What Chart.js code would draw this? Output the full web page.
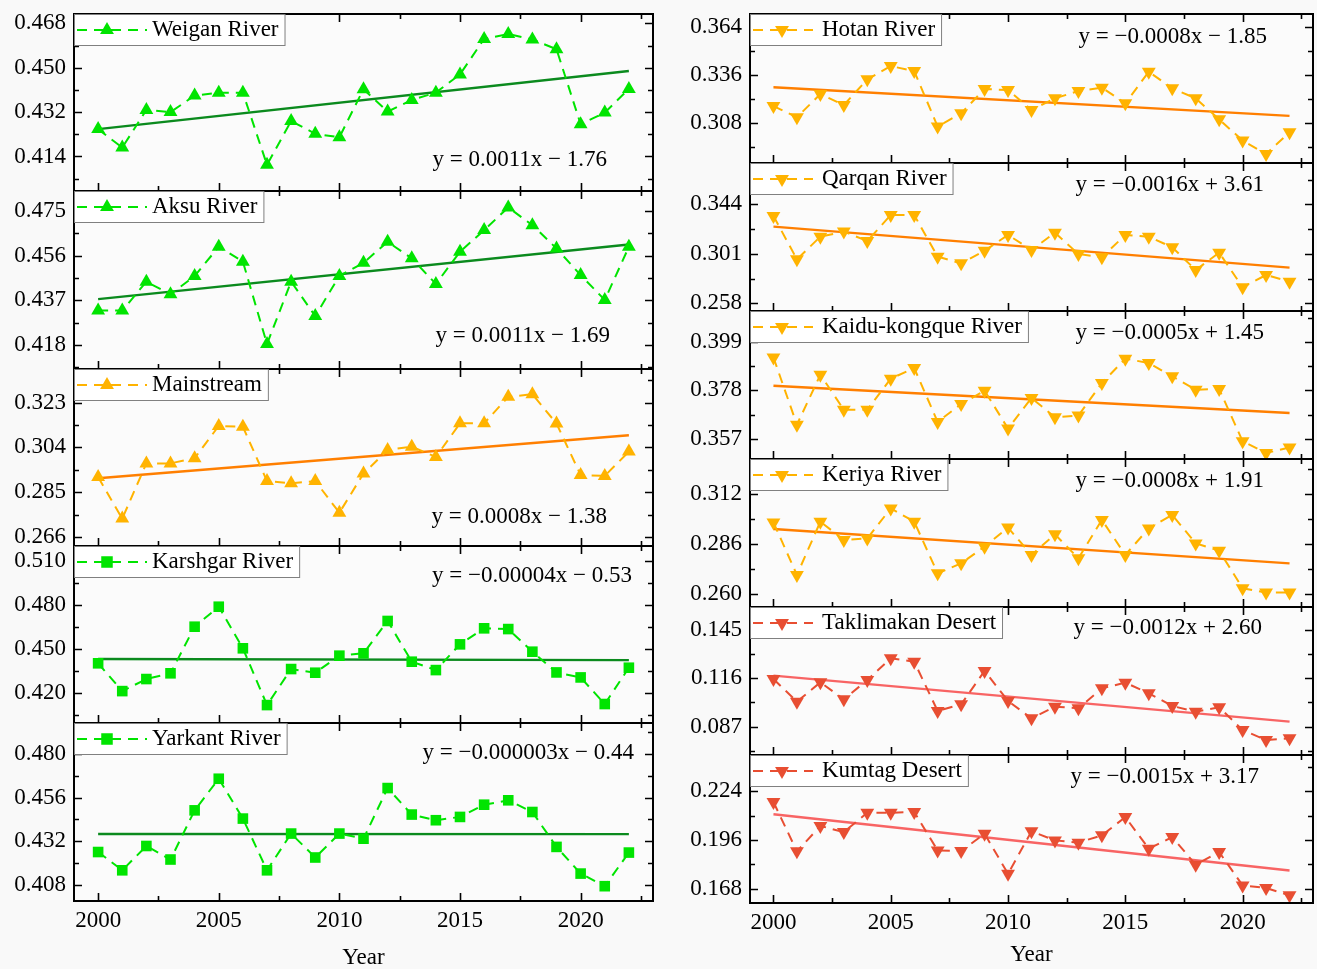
<!DOCTYPE html>
<html><head><meta charset="utf-8">
<script src="https://cdn.jsdelivr.net/npm/chart.js@4/dist/chart.umd.min.js"></script>
<style>
html,body{margin:0;padding:0;background:#f9f9f9;overflow:hidden;width:1317px;height:969px;position:relative;}
canvas{position:absolute;}
</style></head><body>
<script>
// ---------- DATA ----------
const years = [2000,2001,2002,2003,2004,2005,2006,2007,2008,2009,2010,2011,2012,2013,2014,2015,2016,2017,2018,2019,2020,2021,2022];
const xTickLabels = [2000,2005,2010,2015,2020];

const weiganValues = [0.4251,0.4176,0.4329,0.4320,0.4387,0.4399,0.4399,0.4106,0.4284,0.4232,0.4218,0.4413,0.4322,0.4369,0.4399,0.4473,0.4617,0.4637,0.4615,0.4575,0.4271,0.4318,0.4414];
const weiganTrend = [0.4251,0.4487];
const weiganTicks = [0.414,0.432,0.450,0.468];

const aksuValues = [0.4326,0.4326,0.4449,0.4395,0.4473,0.4597,0.4534,0.4184,0.4449,0.4303,0.4473,0.4529,0.4618,0.4548,0.4439,0.4576,0.4668,0.4764,0.4689,0.4590,0.4477,0.4371,0.4597];
const aksuTrend = [0.4375,0.4607];
const aksuTicks = [0.418,0.437,0.456,0.475];

const mainstreamValues = [0.2914,0.2738,0.2972,0.2972,0.2994,0.3131,0.3127,0.2897,0.2888,0.2897,0.2763,0.2929,0.3029,0.3043,0.2999,0.3142,0.3142,0.3254,0.3265,0.3141,0.2923,0.2919,0.3022];
const mainstreamTrend = [0.2909,0.3091];
const mainstreamTicks = [0.266,0.285,0.304,0.323];

const karshgarValues = [0.4404,0.4215,0.4297,0.4336,0.4653,0.4789,0.4506,0.4120,0.4365,0.4340,0.4456,0.4472,0.4692,0.4415,0.4358,0.4533,0.4642,0.4637,0.4483,0.4342,0.4308,0.4127,0.4374];
const karshgarTrend = [0.4433,0.4426];
const karshgarTicks = [0.420,0.450,0.480,0.510];

const yarkantValues = [0.4262,0.4162,0.4295,0.4221,0.4490,0.4663,0.4445,0.4162,0.4363,0.4232,0.4363,0.4335,0.4612,0.4467,0.4436,0.4454,0.4521,0.4545,0.4481,0.4290,0.4144,0.4075,0.4259];
const yarkantTrend = [0.4361,0.4360];
const yarkantTicks = [0.408,0.432,0.456,0.480];

const hotanValues = [0.3180,0.3115,0.3250,0.3186,0.3335,0.3412,0.3383,0.3061,0.3138,0.3279,0.3273,0.3157,0.3225,0.3267,0.3287,0.3196,0.3379,0.3283,0.3225,0.3103,0.2980,0.2902,0.3028];
const hotanTrend = [0.3289,0.3123];
const hotanTicks = [0.308,0.336,0.364];

const qarqanValues = [0.3339,0.2962,0.3159,0.3203,0.3121,0.3347,0.3347,0.2985,0.2927,0.3037,0.3174,0.3043,0.3194,0.3008,0.2980,0.3174,0.3159,0.3066,0.2869,0.3020,0.2719,0.2826,0.2768];
const qarqanTrend = [0.3246,0.2890];
const qarqanTicks = [0.258,0.301,0.344];

const kaiduValues = [0.3923,0.3631,0.3848,0.3696,0.3696,0.3831,0.3877,0.3643,0.3721,0.3779,0.3614,0.3747,0.3663,0.3671,0.3812,0.3918,0.3899,0.3841,0.3783,0.3786,0.3559,0.3508,0.3532];
const kaiduTrend = [0.3800,0.3682];
const kaiduTicks = [0.357,0.378,0.399];

const keriyaValues = [0.2974,0.2701,0.2978,0.2883,0.2891,0.3047,0.2978,0.2709,0.2761,0.2848,0.2947,0.2805,0.2912,0.2787,0.2987,0.2805,0.2943,0.3013,0.2865,0.2827,0.2631,0.2610,0.2610];
const keriyaTrend = [0.2940,0.2761];
const keriyaTicks = [0.260,0.286,0.312];

const taklimakanValues = [0.1156,0.1020,0.1136,0.1034,0.1150,0.1280,0.1260,0.0964,0.1004,0.1204,0.1024,0.0920,0.0990,0.0980,0.1100,0.1134,0.1070,0.0994,0.0960,0.0986,0.0850,0.0790,0.0800];
const taklimakanTrend = [0.1176,0.0900];
const taklimakanTicks = [0.087,0.116,0.145];

const kumtagValues = [0.2179,0.1895,0.2041,0.2006,0.2117,0.2117,0.2121,0.1900,0.1897,0.1996,0.1766,0.2010,0.1958,0.1945,0.1987,0.2092,0.1910,0.1977,0.1818,0.1891,0.1699,0.1684,0.1642];
const kumtagTrend = [0.2108,0.1785];
const kumtagTicks = [0.168,0.196,0.224];

// ---------- STYLE ----------
const FONT = "'Liberation Serif','Times New Roman',serif";
const FS = 23;
const palette = {
  green:{marker:'#00e400', trend:'#0b8a1e'},
  amber:{marker:'#ffb300', trend:'#ff7f00'},
  red:{marker:'#e84e32', trend:'#f86464'}
};
const cols = {
  L:{x0:0, left:74, right:653, sample:70, markerAt:33, textAt:78, canvasBottom:976},
  R:{x0:676, left:750, right:1313, sample:60, markerAt:32, textAt:72, canvasBottom:973}
};

const panels = [
 {name:'Weigan River', col:'L', top:14, bottom:191, values:weiganValues, trend:weiganTrend, ticks:weiganTicks, min:0.4000, max:0.4718, shape:'up', color:'green', eq:'y = 0.0011x \u2212 1.76', eqDx:46, eqCy:146},
 {name:'Aksu River', col:'L', top:191, bottom:369, values:aksuValues, trend:aksuTrend, ticks:aksuTicks, min:0.4078, max:0.4834, shape:'up', color:'green', eq:'y = 0.0011x \u2212 1.69', eqDx:43, eqCy:145},
 {name:'Mainstream', col:'L', top:369, bottom:546, values:mainstreamValues, trend:mainstreamTrend, ticks:mainstreamTicks, min:0.2622, max:0.3372, shape:'up', color:'amber', eq:'y = 0.0008x \u2212 1.38', eqDx:46, eqCy:148},
 {name:'Karshgar River', col:'L', top:546, bottom:723, values:karshgarValues, trend:karshgarTrend, ticks:karshgarTicks, min:0.3998, max:0.5202, shape:'sq', color:'green', eq:'y = \u22120.00004x \u2212 0.53', eqDx:21, eqCy:30},
 {name:'Yarkant River', col:'L', top:723, bottom:901, values:yarkantValues, trend:yarkantTrend, ticks:yarkantTicks, min:0.3994, max:0.4968, shape:'sq', color:'green', eq:'y = \u22120.000003x \u2212 0.44', eqDx:19, eqCy:30, bottomPanel:true},
 {name:'Hotan River', col:'R', top:14, bottom:163, values:hotanValues, trend:hotanTrend, ticks:hotanTicks, min:0.2850, max:0.3714, shape:'down', color:'amber', eq:'y = \u22120.0008x \u2212 1.85', eqDx:46, eqCy:23},
 {name:'Qarqan River', col:'R', top:163, bottom:311, values:qarqanValues, trend:qarqanTrend, ticks:qarqanTicks, min:0.2513, max:0.3799, shape:'down', color:'amber', eq:'y = \u22120.0016x + 3.61', eqDx:49, eqCy:22},
 {name:'Kaidu-kongque River', col:'R', top:311, bottom:459, values:kaiduValues, trend:kaiduTrend, ticks:kaiduTicks, min:0.3482, max:0.4125, shape:'down', color:'amber', eq:'y = \u22120.0005x + 1.45', eqDx:49, eqCy:22},
 {name:'Keriya River', col:'R', top:459, bottom:607, values:keriyaValues, trend:keriyaTrend, ticks:keriyaTicks, min:0.2534, max:0.3304, shape:'down', color:'amber', eq:'y = \u22120.0008x + 1.91', eqDx:49, eqCy:22},
 {name:'Taklimakan Desert', col:'R', top:607, bottom:755, values:taklimakanValues, trend:taklimakanTrend, ticks:taklimakanTicks, min:0.0700, max:0.1588, shape:'down', color:'red', eq:'y = \u22120.0012x + 2.60', eqDx:51, eqCy:21},
 {name:'Kumtag Desert', col:'R', top:755, bottom:903, values:kumtagValues, trend:kumtagTrend, ticks:kumtagTicks, min:0.1598, max:0.2449, shape:'down', color:'red', eq:'y = \u22120.0015x + 3.17', eqDx:54, eqCy:22, bottomPanel:true}
];

function markerPath(ctx, shape, x, y, r){
  ctx.beginPath();
  if (shape === 'sq') {
    const s = r * 0.72;
    ctx.rect(x - s, y - s, 2*s, 2*s);
  } else {
    const dir = shape === 'up' ? 1 : -1;
    const w = r * 0.866;
    ctx.moveTo(x, y - dir*r);
    ctx.lineTo(x + w, y + dir*r*0.5);
    ctx.lineTo(x - w, y + dir*r*0.5);
    ctx.closePath();
  }
}

function makePanelPlugin(p){
  const c = cols[p.col];
  const pal = palette[p.color];
  return {
    id:'panelDeco',
    beforeDraw(chart){
      const {ctx, chartArea:a} = chart;
      ctx.save();
      ctx.fillStyle = '#fbfbfb';
      ctx.fillRect(a.left, a.top, a.right-a.left, a.bottom-a.top);
      ctx.restore();
    },
    afterDraw(chart){
      const {ctx, chartArea:a, scales:{x, y}} = chart;
      ctx.save();
      ctx.strokeStyle = '#000';
      ctx.lineWidth = 1.6;
      const step = p.ticks[1] - p.ticks[0];
      const yTickLine = (v, len) => {
        const py = Math.round(y.getPixelForValue(v)) + 0.5;
        if (py < a.top + 1 || py > a.bottom - 1) return;
        ctx.beginPath();
        ctx.moveTo(a.left, py); ctx.lineTo(a.left + len, py);
        ctx.moveTo(a.right, py); ctx.lineTo(a.right - len, py);
        ctx.stroke();
      };
      p.ticks.forEach(v => yTickLine(v, 8));
      for (let k = -2; k < p.ticks.length + 1; k++) {
        const v = p.ticks[0] + (k + 0.5) * step;
        if (v > p.min && v < p.max) yTickLine(v, 5);
      }
      const xTickLine = (v, len) => {
        const px = Math.round(x.getPixelForValue(v)) + 0.5;
        ctx.beginPath();
        ctx.moveTo(px, a.bottom); ctx.lineTo(px, a.bottom - len);
        ctx.moveTo(px, a.top); ctx.lineTo(px, a.top + len);
        ctx.stroke();
      };
      xTickLabels.forEach(v => xTickLine(v, 8));
      xTickLabels.forEach(v => xTickLine(v + 2.5, 5));
      ctx.lineWidth = 2;
      ctx.strokeRect(a.left, a.top, a.right - a.left, a.bottom - a.top);
      ctx.font = FS + 'px ' + FONT;
      const tw = ctx.measureText(p.name).width;
      const bw = c.textAt + tw + 6, bh = 31;
      ctx.fillStyle = '#ffffff';
      ctx.fillRect(a.left + 1, a.top + 1, bw - 1, bh - 1);
      ctx.strokeStyle = '#808080';
      ctx.lineWidth = 1;
      ctx.strokeRect(a.left + 0.5, a.top + 0.5, bw, bh);
      const ly = a.top + 16;
      ctx.strokeStyle = pal.marker;
      ctx.lineWidth = 2;
      ctx.setLineDash([10, 7]);
      ctx.beginPath();
      ctx.moveTo(a.left + 3, ly); ctx.lineTo(a.left + 3 + c.sample, ly);
      ctx.stroke();
      ctx.setLineDash([]);
      ctx.fillStyle = pal.marker;
      markerPath(ctx, p.shape, a.left + c.markerAt, ly, 8);
      ctx.fill();
      ctx.fillStyle = '#000';
      ctx.textBaseline = 'middle';
      ctx.textAlign = 'left';
      ctx.fillText(p.name, a.left + c.textAt, ly);
      ctx.textAlign = 'right';
      ctx.fillText(p.eq, a.right - p.eqDx, a.top + p.eqCy);
      ctx.restore();
    }
  };
}

panels.forEach(p => {
  const c = cols[p.col];
  const padT = 26, padR = 8;
  const plotH = p.bottom - p.top;
  const axisH = p.bottomPanel ? (c.canvasBottom - p.bottom) : 0;
  const padB = p.bottomPanel ? 0 : 26;
  const cv = document.createElement('canvas');
  const W = c.right + padR - c.x0;
  const H = plotH + padT + padB + axisH;
  cv.width = W; cv.height = H;
  cv.style.left = c.x0 + 'px';
  cv.style.top = (p.top - padT) + 'px';
  cv.style.width = W + 'px'; cv.style.height = H + 'px';
  document.body.appendChild(cv);
  const pal = palette[p.color];
  const font = {family: FONT, size: FS};
  new Chart(cv, {
    type: 'line',
    data: {
      datasets: [
        {
          data: years.map((yr, i) => ({x: yr, y: p.values[i]})),
          borderColor: pal.marker, backgroundColor: pal.marker,
          borderWidth: 2, borderDash: [10, 7], tension: 0,
          pointStyle: p.shape === 'sq' ? 'rect' : 'triangle',
          pointRotation: p.shape === 'down' ? 180 : 0,
          pointRadius: p.shape === 'sq' ? 7.5 : 8,
          pointBorderWidth: 0,
          pointBackgroundColor: pal.marker,
          order: 0
        },
        {
          data: [{x: years[0], y: p.trend[0]}, {x: years[years.length-1], y: p.trend[1]}],
          borderColor: pal.trend, borderWidth: 2.4, pointRadius: 0, tension: 0,
          order: 1
        }
      ]
    },
    options: {
      responsive: false, animation: false, devicePixelRatio: 1,
      layout: {autoPadding: false, padding: {left: 0, right: padR, top: padT, bottom: padB}},
      plugins: {legend: {display: false}, tooltip: {enabled: false}},
      scales: {
        x: {
          type: 'linear', min: 1999, max: 2023,
          grid: {display: false, drawTicks: false}, border: {display: false},
          ticks: {display: !!p.bottomPanel, font: font, color: '#000', padding: 6, callback: v => String(v)},
          title: {display: !!p.bottomPanel, text: 'Year', font: font, color: '#000', padding: {top: 0, bottom: 4}},
          afterBuildTicks: s => { s.ticks = xTickLabels.map(v => ({value: v})); },
          afterFit: s => { s.height = axisH; }
        },
        y: {
          type: 'linear', min: p.min, max: p.max,
          grid: {display: false, drawTicks: false}, border: {display: false},
          ticks: {font: font, color: '#000', padding: 8, callback: v => Number(v).toFixed(3)},
          afterBuildTicks: s => { s.ticks = p.ticks.map(v => ({value: v})); },
          afterFit: s => { s.width = c.left - c.x0; }
        }
      }
    },
    plugins: [makePanelPlugin(p)]
  });
});
</script>
</body></html>
